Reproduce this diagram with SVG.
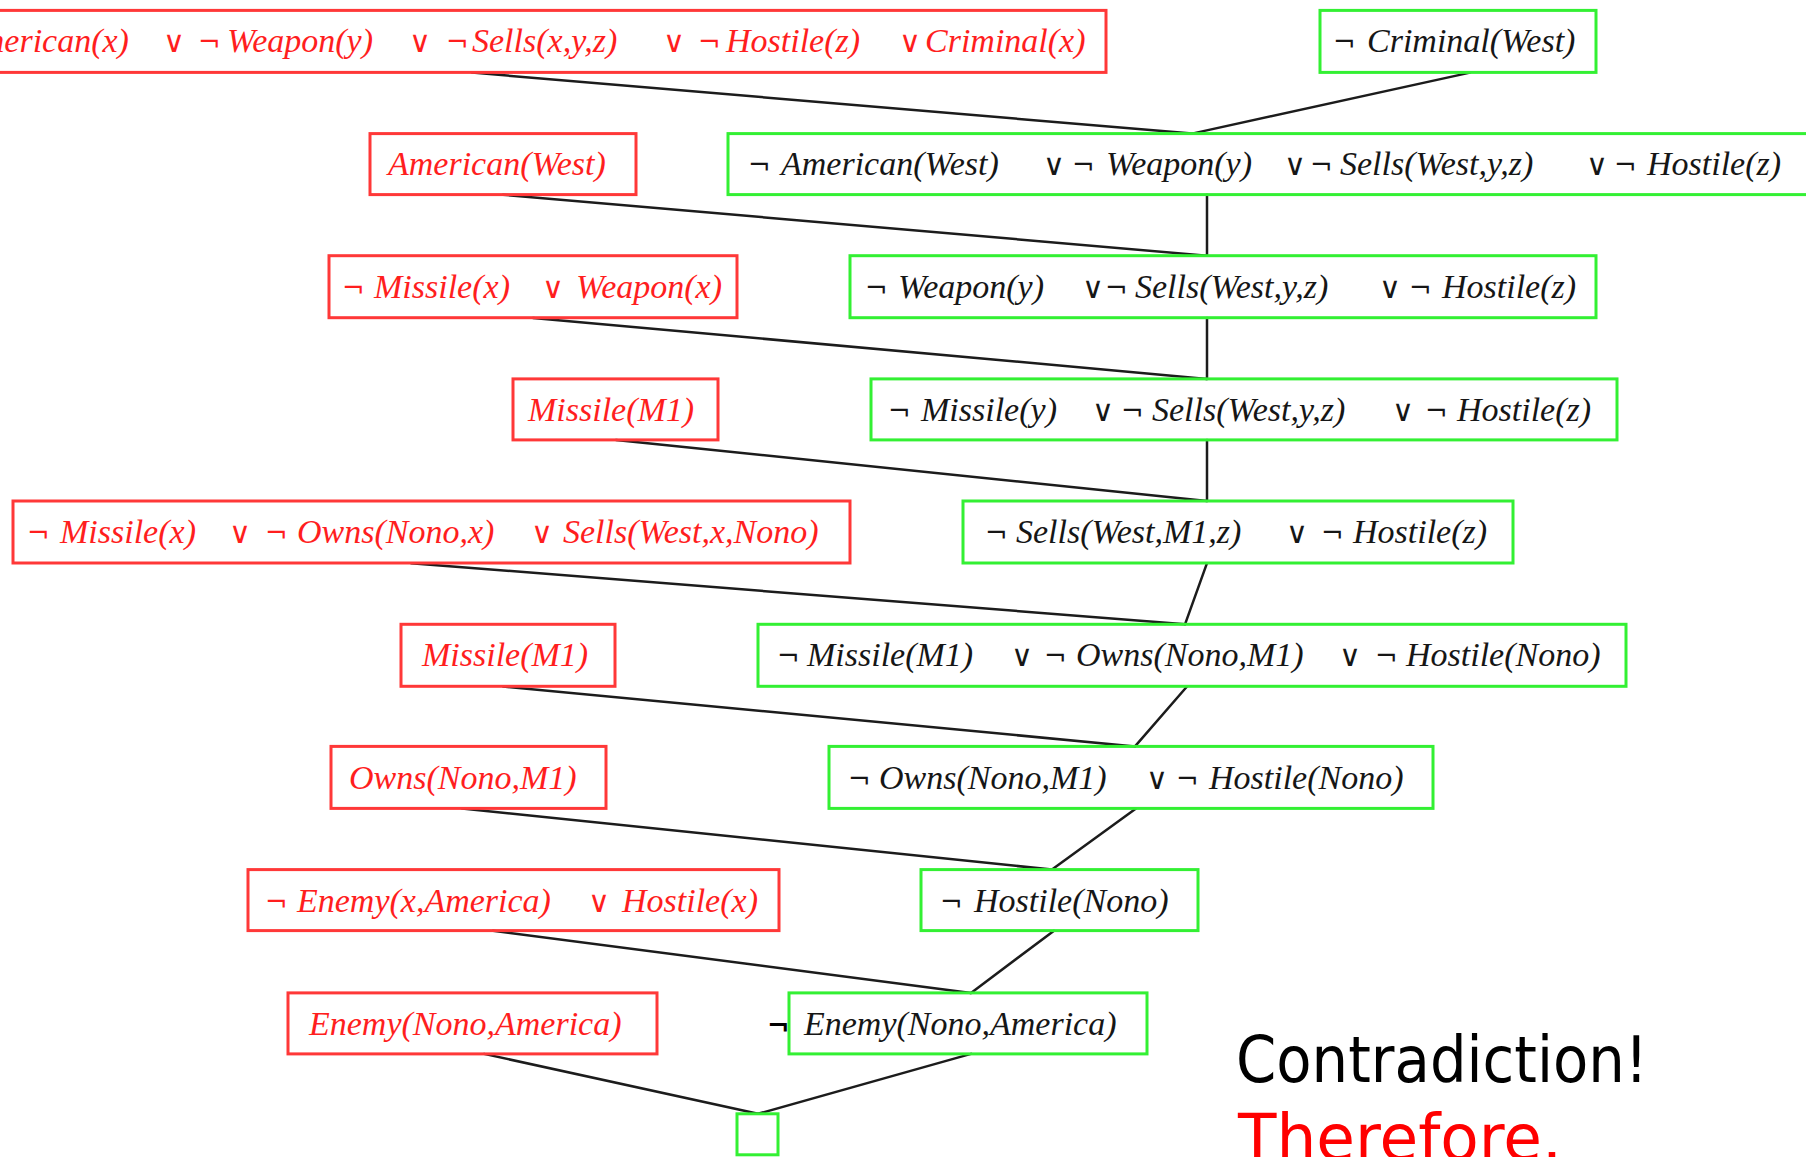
<svg xmlns="http://www.w3.org/2000/svg" width="1806" height="1157" viewBox="0 0 1806 1157">
<style>
.r rect{fill:none;stroke:#ff3838;stroke-width:3}
.g rect{fill:none;stroke:#33f033;stroke-width:3}
text.f{font-family:"Liberation Serif","Times New Roman",serif;font-size:34px;font-style:italic}
.r text{fill:#ff1e1e}
.g text{fill:#161616}
.op{font-style:normal;font-family:"DejaVu Serif","Liberation Serif",serif;font-size:27px}
.or{font-style:normal;font-family:"DejaVu Sans","Liberation Sans",sans-serif;font-weight:200;font-size:30px}
#connectors line{stroke:#1c1c1c;stroke-width:2.5;stroke-linecap:round}
.big{font-family:"Comic Sans MS","DejaVu Sans",sans-serif;font-size:64px}
</style>
<rect width="1806" height="1157" fill="#ffffff"/>
<g id="connectors">
<line x1="472" y1="72.6" x2="1192" y2="133.6"/>
<line x1="1470" y1="72.6" x2="1192" y2="133.6"/>
<line x1="503" y1="194.7" x2="1207" y2="255.7"/>
<line x1="1207" y1="194.7" x2="1207" y2="255.7"/>
<line x1="533" y1="317.9" x2="1207" y2="378.9"/>
<line x1="1207" y1="317.9" x2="1207" y2="378.9"/>
<line x1="616" y1="440" x2="1207" y2="501"/>
<line x1="1207" y1="440" x2="1207" y2="501"/>
<line x1="411" y1="563.2" x2="1185" y2="624.3"/>
<line x1="1207" y1="563.2" x2="1185" y2="624.3"/>
<line x1="503" y1="686.5" x2="1135" y2="746.4"/>
<line x1="1187" y1="686.5" x2="1135" y2="746.4"/>
<line x1="462" y1="808.6" x2="1052" y2="869.6"/>
<line x1="1136" y1="808.6" x2="1052" y2="869.6"/>
<line x1="493" y1="930.7" x2="971" y2="992.9"/>
<line x1="1054" y1="930.7" x2="971" y2="992.9"/>
<line x1="484" y1="1053.9" x2="758" y2="1113.8"/>
<line x1="971" y1="1053.9" x2="758" y2="1113.8"/>
</g>

<g id="r1" class="r"><rect x="-90" y="10.4" width="1196" height="62"/>
<text class="f" y="52"><tspan class="op" x="-76">¬</tspan><tspan x="-41">American(x)</tspan><tspan class="or" x="163">∨</tspan><tspan class="op" x="198">¬</tspan><tspan x="227">Weapon(y)</tspan><tspan class="or" x="409">∨</tspan><tspan class="op" x="446">¬</tspan><tspan x="472">Sells(x,y,z)</tspan><tspan class="or" x="663">∨</tspan><tspan class="op" x="698">¬</tspan><tspan x="726">Hostile(z)</tspan><tspan class="or" x="899">∨</tspan><tspan x="925">Criminal(x)</tspan></text></g>

<g id="g0" class="g"><rect x="1320" y="10.4" width="276" height="62"/>
<text class="f" y="52"><tspan class="op" x="1333">¬</tspan><tspan x="1367">Criminal(West)</tspan></text></g>

<g id="r2" class="r"><rect x="370" y="133.6" width="266" height="61"/>
<text class="f" y="175" x="388">American(West)</text></g>

<g id="g1" class="g"><rect x="728" y="133.6" width="1095" height="61"/>
<text class="f" y="175"><tspan class="op" x="748">¬</tspan><tspan x="781">American(West)</tspan><tspan class="or" x="1043">∨</tspan><tspan class="op" x="1072">¬</tspan><tspan x="1106">Weapon(y)</tspan><tspan class="or" x="1284">∨</tspan><tspan class="op" x="1310">¬</tspan><tspan x="1340">Sells(West,y,z)</tspan><tspan class="or" x="1586">∨</tspan><tspan class="op" x="1614">¬</tspan><tspan x="1647">Hostile(z)</tspan></text></g>

<g id="r3" class="r"><rect x="329" y="255.7" width="408" height="62"/>
<text class="f" y="298"><tspan class="op" x="342">¬</tspan><tspan x="374">Missile(x)</tspan><tspan class="or" x="542">∨</tspan><tspan x="576">Weapon(x)</tspan></text></g>

<g id="g2" class="g"><rect x="850" y="255.7" width="746" height="62"/>
<text class="f" y="298"><tspan class="op" x="865">¬</tspan><tspan x="898">Weapon(y)</tspan><tspan class="or" x="1082">∨</tspan><tspan class="op" x="1105">¬</tspan><tspan x="1135">Sells(West,y,z)</tspan><tspan class="or" x="1379">∨</tspan><tspan class="op" x="1409">¬</tspan><tspan x="1442">Hostile(z)</tspan></text></g>

<g id="r4" class="r"><rect x="513" y="378.9" width="205" height="61"/>
<text class="f" y="421" x="528">Missile(M1)</text></g>

<g id="g3" class="g"><rect x="871" y="378.9" width="746" height="61"/>
<text class="f" y="421"><tspan class="op" x="888">¬</tspan><tspan x="921">Missile(y)</tspan><tspan class="or" x="1092">∨</tspan><tspan class="op" x="1121">¬</tspan><tspan x="1152">Sells(West,y,z)</tspan><tspan class="or" x="1392">∨</tspan><tspan class="op" x="1425">¬</tspan><tspan x="1457">Hostile(z)</tspan></text></g>

<g id="r5" class="r"><rect x="13" y="501" width="837" height="62"/>
<text class="f" y="543"><tspan class="op" x="27">¬</tspan><tspan x="60">Missile(x)</tspan><tspan class="or" x="229">∨</tspan><tspan class="op" x="265">¬</tspan><tspan x="297">Owns(Nono,x)</tspan><tspan class="or" x="531">∨</tspan><tspan x="563">Sells(West,x,Nono)</tspan></text></g>

<g id="g4" class="g"><rect x="963" y="501" width="550" height="62"/>
<text class="f" y="543"><tspan class="op" x="985">¬</tspan><tspan x="1016">Sells(West,M1,z)</tspan><tspan class="or" x="1286">∨</tspan><tspan class="op" x="1321">¬</tspan><tspan x="1353">Hostile(z)</tspan></text></g>

<g id="r6" class="r"><rect x="401" y="624.3" width="214" height="62"/>
<text class="f" y="666" x="422">Missile(M1)</text></g>

<g id="g5" class="g"><rect x="758" y="624.3" width="868" height="62"/>
<text class="f" y="666"><tspan class="op" x="777">¬</tspan><tspan x="807">Missile(M1)</tspan><tspan class="or" x="1011">∨</tspan><tspan class="op" x="1044">¬</tspan><tspan x="1076">Owns(Nono,M1)</tspan><tspan class="or" x="1339">∨</tspan><tspan class="op" x="1375">¬</tspan><tspan x="1406">Hostile(Nono)</tspan></text></g>

<g id="r7" class="r"><rect x="331" y="746.4" width="275" height="62"/>
<text class="f" y="789" x="349">Owns(Nono,M1)</text></g>

<g id="g6" class="g"><rect x="829" y="746.4" width="604" height="62"/>
<text class="f" y="789"><tspan class="op" x="848">¬</tspan><tspan x="879">Owns(Nono,M1)</tspan><tspan class="or" x="1146">∨</tspan><tspan class="op" x="1176">¬</tspan><tspan x="1209">Hostile(Nono)</tspan></text></g>

<g id="r8" class="r"><rect x="248" y="869.6" width="531" height="61"/>
<text class="f" y="912"><tspan class="op" x="265">¬</tspan><tspan x="297">Enemy(x,America)</tspan><tspan class="or" x="588">∨</tspan><tspan x="622">Hostile(x)</tspan></text></g>

<g id="g7" class="g"><rect x="921" y="869.6" width="277" height="61"/>
<text class="f" y="912"><tspan class="op" x="940">¬</tspan><tspan x="974">Hostile(Nono)</tspan></text></g>

<g id="r9" class="r"><rect x="288" y="992.9" width="369" height="61"/>
<text class="f" y="1035" x="309">Enemy(Nono,America)</text></g>

<g id="g8" class="g"><rect x="789" y="992.9" width="358" height="61"/>
<text class="f" y="1035"><tspan class="op" x="767" font-weight="bold" font-size="32" fill="#000">¬</tspan><tspan x="804">Enemy(Nono,America)</tspan></text></g>

<g id="g9" class="g"><rect x="737" y="1113.8" width="41" height="41"/></g>

<text class="big" x="1236" y="1082" textLength="412" lengthAdjust="spacingAndGlyphs" fill="#000">Contradiction!</text>
<text class="big" x="1238" y="1160" textLength="324" lengthAdjust="spacingAndGlyphs" fill="#ff0000">Therefore.</text>
</svg>
